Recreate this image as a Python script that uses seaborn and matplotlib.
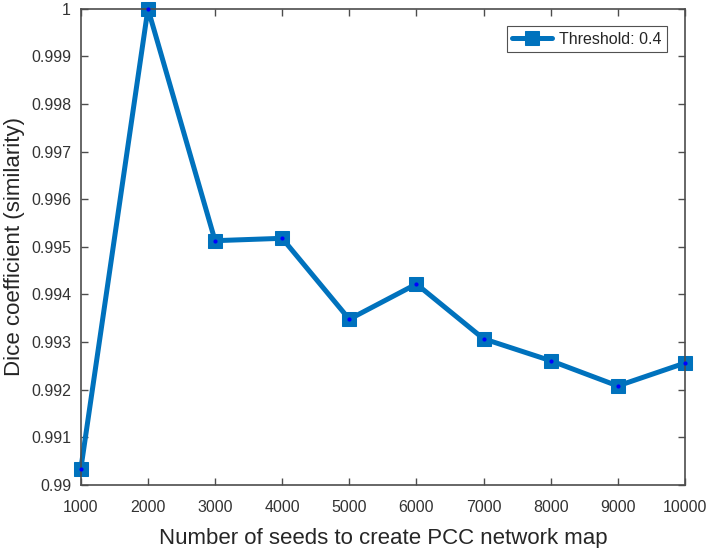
import matplotlib
matplotlib.use("Agg")
import matplotlib.pyplot as plt
import seaborn as sns
import pandas as pd

seeds = [1000, 2000, 3000, 4000, 5000, 6000, 7000, 8000, 9000, 10000]
dice = [0.99034, 1.0, 0.99513, 0.99518, 0.99348, 0.99422, 0.99307, 0.99261, 0.99208, 0.99256]
series_label = "Threshold: 0.4"
xticks = [1000, 2000, 3000, 4000, 5000, 6000, 7000, 8000, 9000, 10000]
yticks = [0.99, 0.991, 0.992, 0.993, 0.994, 0.995, 0.996, 0.997, 0.998, 0.999, 1.0]
ytick_labels = ["0.99", "0.991", "0.992", "0.993", "0.994", "0.995", "0.996", "0.997", "0.998", "0.999", "1"]

sns.set_style("white")
plt.rcParams['font.family'] = ['Liberation Sans', 'DejaVu Sans']

df = pd.DataFrame({"seeds": seeds, "dice": dice})
blue = "#0072BD"
grey = "#262626"

fig = plt.figure(figsize=(7.09, 5.48), dpi=100)
ax = fig.add_axes([0.114, 0.115, 0.852, 0.869])

sns.lineplot(data=df, x="seeds", y="dice", ax=ax, color=blue, linewidth=3.6,
             marker="s", markersize=9.5, markerfacecolor=blue, markeredgecolor=blue,
             label=series_label, clip_on=False)
ax.scatter(seeds, dice, s=4, color="#0000FF", zorder=5, clip_on=False)

ax.set_xlim(1000, 10000)
ax.set_ylim(0.99, 1.0)
ax.set_xticks(xticks)
ax.set_xticklabels([str(t) for t in xticks])
ax.set_yticks(yticks)
ax.set_yticklabels(ytick_labels)
ax.tick_params(direction="in", length=5, width=1, colors="#4d4d4d",
               labelcolor="#333333", labelsize=11.5, top=True, right=True,
               bottom=True, left=True)
ax.tick_params(axis="x", pad=11)
ax.tick_params(axis="y", pad=7)
for s in ax.spines.values():
    s.set_color("#4d4d4d")
    s.set_linewidth(1.2)
    s.set_visible(True)
ax.set_xlabel("Number of seeds to create PCC network map", fontsize=16, color=grey, labelpad=9)
ax.set_ylabel("Dice coefficient (similarity)", fontsize=16, color=grey, labelpad=4)

leg = ax.legend(loc="upper right", fontsize=11.5, frameon=True, fancybox=False,
                edgecolor="#262626", handlelength=2.5, handletextpad=0.4,
                borderpad=0.35, borderaxespad=0,
                bbox_to_anchor=(0.97, 0.964))
leg.get_frame().set_linewidth(0.8)
for t in leg.get_texts():
    t.set_color(grey)

fig.savefig("out.png", dpi=100)
